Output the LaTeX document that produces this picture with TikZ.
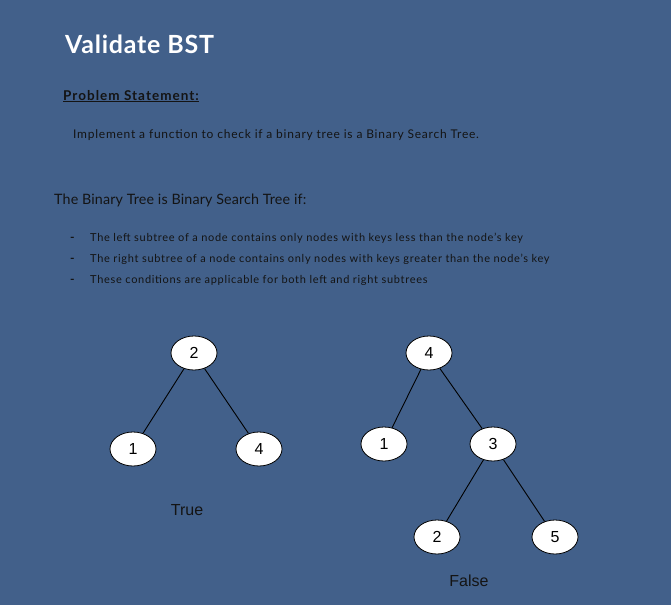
\documentclass[tikz,border=0pt]{standalone}
\usepackage{fontspec}
\setmainfont{Lato}
\newfontfamily\bodyfont[LetterSpace=6.3]{Lato}
\newfontfamily\psfont[LetterSpace=7.6]{Lato}
\newfontfamily\condfont[LetterSpace=1]{Lato}
\newfontfamily\titlefont[LetterSpace=3]{Lato}
\newfontfamily\numfont{Liberation Sans}
\usetikzlibrary{shapes.geometric}
\definecolor{bg}{HTML}{42608A}
\definecolor{txt}{HTML}{141414}
\tikzset{
  treenode/.style={ellipse, draw=black, line width=0.8pt, fill=white, minimum width=46pt, minimum height=34pt, inner sep=0pt, font=\numfont\fontsize{16}{18}\selectfont, text=black},
  edge/.style={draw=black, line width=0.9pt},
  bodytext/.style={anchor=base west, inner sep=0pt, text=txt},
  bullettext/.style={bodytext, font=\bodyfont\fontsize{11}{13}\selectfont},
  dashmark/.style={bodytext, font=\fontsize{12}{13}\selectfont\bfseries},
  verdict/.style={anchor=base, inner sep=0pt, text=txt, font=\numfont\fontsize{16}{18}\selectfont}
}
\begin{document}
\begin{tikzpicture}[x=1pt,y=-1pt]
\fill[bg] (0,0) rectangle (671,605);
\useasboundingbox (0,0) rectangle (671,605);
% texts
\node[bodytext, text=white, font=\titlefont\fontsize{25}{28}\selectfont\bfseries] (title) at (65,53) {Validate BST};
\node[bodytext, font=\psfont\fontsize{13.5}{15}\selectfont\bfseries] (ps) at (63,100) {\underline{Problem Statement:}};
\node[bodytext, font=\bodyfont\fontsize{12}{14}\selectfont] (impl) at (73,138) {Implement a function to check if a binary tree is a Binary Search Tree.};
\node[bodytext, font=\condfont\fontsize{14.3}{16}\selectfont] (cond) at (54,204) {The Binary Tree is Binary Search Tree if:};
\node[dashmark] (d1) at (70,241) {-};
\node[bullettext] (b1) at (90,241) {The left subtree of a node contains only nodes with keys less than the node’s key};
\node[dashmark] (d2) at (70,262) {-};
\node[bullettext] (b2) at (90,262) {The right subtree of a node contains only nodes with keys greater than the node’s key};
\node[dashmark] (d3) at (70,283) {-};
\node[bullettext] (b3) at (90,283) {These conditions are applicable for both left and right subtrees};
% left tree
\node[treenode] (l2) at (194,353) {2};
\node[treenode] (l1) at (133,449) {1};
\node[treenode] (l4) at (259,449) {4};
\draw[edge] (l2) -- (l1);
\draw[edge] (l2) -- (l4);
\node[verdict] (true) at (187,515) {True};
% right tree
\node[treenode] (r4) at (429,353) {4};
\node[treenode] (r1) at (384,444) {1};
\node[treenode] (r3) at (493,444) {3};
\node[treenode] (r2) at (437,537) {2};
\node[treenode] (r5) at (555,537) {5};
\draw[edge] (r4) -- (r1);
\draw[edge] (r4) -- (r3);
\draw[edge] (r3) -- (r2);
\draw[edge] (r3) -- (r5);
\node[verdict] (false) at (469,586) {False};
\end{tikzpicture}
\end{document}
